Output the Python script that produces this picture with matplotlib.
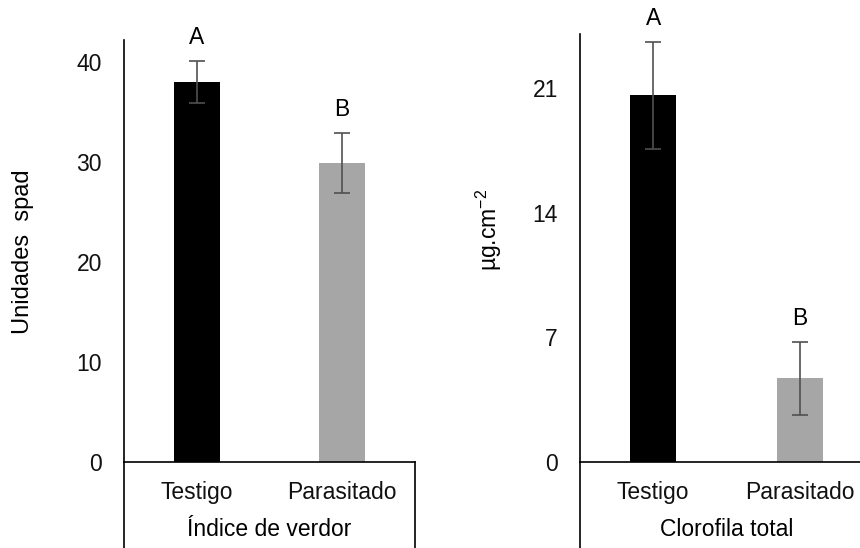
import matplotlib
matplotlib.use("Agg")
import matplotlib.pyplot as plt

plt.rcParams['font.family'] = ['Liberation Sans', 'DejaVu Sans']
plt.rcParams['mathtext.fontset'] = 'custom'
plt.rcParams['mathtext.rm'] = 'Liberation Sans'
plt.rcParams['mathtext.it'] = 'Liberation Sans'

tratamientos = ['Testigo', 'Parasitado']
colores = ['#000000', '#a6a6a6']

spad_media = [38.0, 29.9]
spad_error = [2.1, 3.0]
spad_letras = ['A', 'B']

clorofila_media = [20.6, 4.7]
clorofila_error = [3.0, 2.05]
clorofila_letras = ['A', 'B']

W, H = 860, 548
FS = 16.5
fig = plt.figure(figsize=(W / 100, H / 100), dpi=100)


def panel(rect, medias, errores, letras, ymax, yticks, xlabel):
    ax = fig.add_axes(rect)
    x = range(len(tratamientos))
    ax.bar(x, medias, width=0.315, color=colores, zorder=2)
    ax.errorbar(x, medias, yerr=errores, fmt='none', ecolor='#505050',
                elinewidth=1.2, capsize=5.5, capthick=1.2, zorder=3)
    for xi, m, e, l in zip(x, medias, errores, letras):
        ax.annotate(l, (xi, m + e), xytext=(0, 16.5), textcoords='offset points',
                    ha='center', va='center', fontsize=FS)
    ax.set_xlim(-0.5, 1.5)
    ax.set_ylim(0, ymax)
    ax.set_yticks(yticks)
    ax.set_xticks(list(x))
    ax.set_xticklabels(tratamientos)
    ax.tick_params(axis='both', length=0, labelsize=FS, colors='#111111')
    ax.tick_params(axis='y', pad=16)
    ax.tick_params(axis='x', pad=14)
    ax.set_xlabel(xlabel, fontsize=FS, labelpad=10)
    for s in ['top', 'right']:
        ax.spines[s].set_visible(False)
    for s in ['left', 'bottom']:
        ax.spines[s].set_linewidth(1.2)
    # lineas verticales que enmarcan las categorias bajo el eje
    for xa in [0, 1]:
        ax.plot([xa, xa], [0, -0.3], transform=ax.transAxes, color='black',
                lw=1.2, clip_on=False)
    return ax


ax1 = panel([124 / W, 1 - 462 / H, 291 / W, 422.2 / H],
            spad_media, spad_error, spad_letras, 42.2, [0, 10, 20, 30, 40],
            'Índice de verdor')
ax2 = panel([580 / W, 1 - 462 / H, 292.8 / W, 428.5 / H],
            clorofila_media, clorofila_error, clorofila_letras, 24.06,
            [0, 7, 14, 21], 'Clorofila total')

fig.text(23 / W, 1 - 252 / H, 'Unidades  spad', rotation=90, ha='center',
         va='center', fontsize=17)
fig.text(489 / W, 1 - 230 / H, 'µg.cm$^{-2}$', rotation=90, ha='center',
         va='center', fontsize=FS)

fig.savefig('out.png', dpi=100)
